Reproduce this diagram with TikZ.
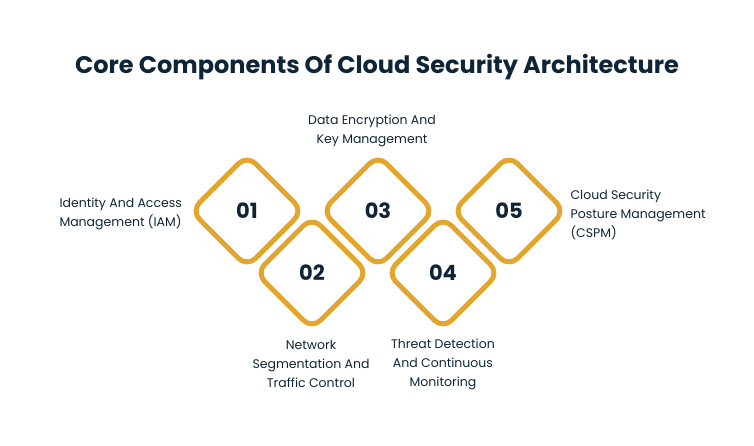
\documentclass[tikz,border=0pt]{standalone}
\usepackage{fontspec}
\setmainfont{Poppins}
\definecolor{gold}{HTML}{E2A62E}
\definecolor{ink}{HTML}{0F2537}
\begin{document}
\begin{tikzpicture}[x=1pt,y=-1pt,
  dia/.style={draw=gold,line width=5pt,rounded corners=12pt,minimum size=79pt,rotate=45,fill=white},
  num/.style={font=\fontsize{21}{21}\selectfont\bfseries,text=ink},
  lab/.style={font=\fontsize{12.5}{19}\selectfont,text=ink}]
\useasboundingbox (0,0) rectangle (754,446);
\node[font=\fontsize{24}{26}\selectfont\bfseries,text=ink] (title) at (377,67) {Core Components Of Cloud Security Architecture};
\foreach \n/\x/\y in {1/247/211,2/312/273,3/378/211,4/443/273,5/509/211}{
  \node[dia] (d\n) at (\x,\y) {};
  \node[num] (n\n) at (\x,\y) {0\n};
}
\node[lab,align=left,anchor=west] (l1) at (56,214) {Identity And Access\\Management (IAM)};
\node[lab,align=center] (l3) at (372,131) {Data Encryption And\\Key Management};
\node[lab,align=left,anchor=west] (l5) at (567,215) {Cloud Security\\Posture Management\\(CSPM)};
\node[lab,align=center] (l2) at (311,364) {Network\\Segmentation And\\Traffic Control};
\node[lab,align=center] (l4) at (443,364) {Threat Detection\\And Continuous\\Monitoring};
\end{tikzpicture}
\end{document}
